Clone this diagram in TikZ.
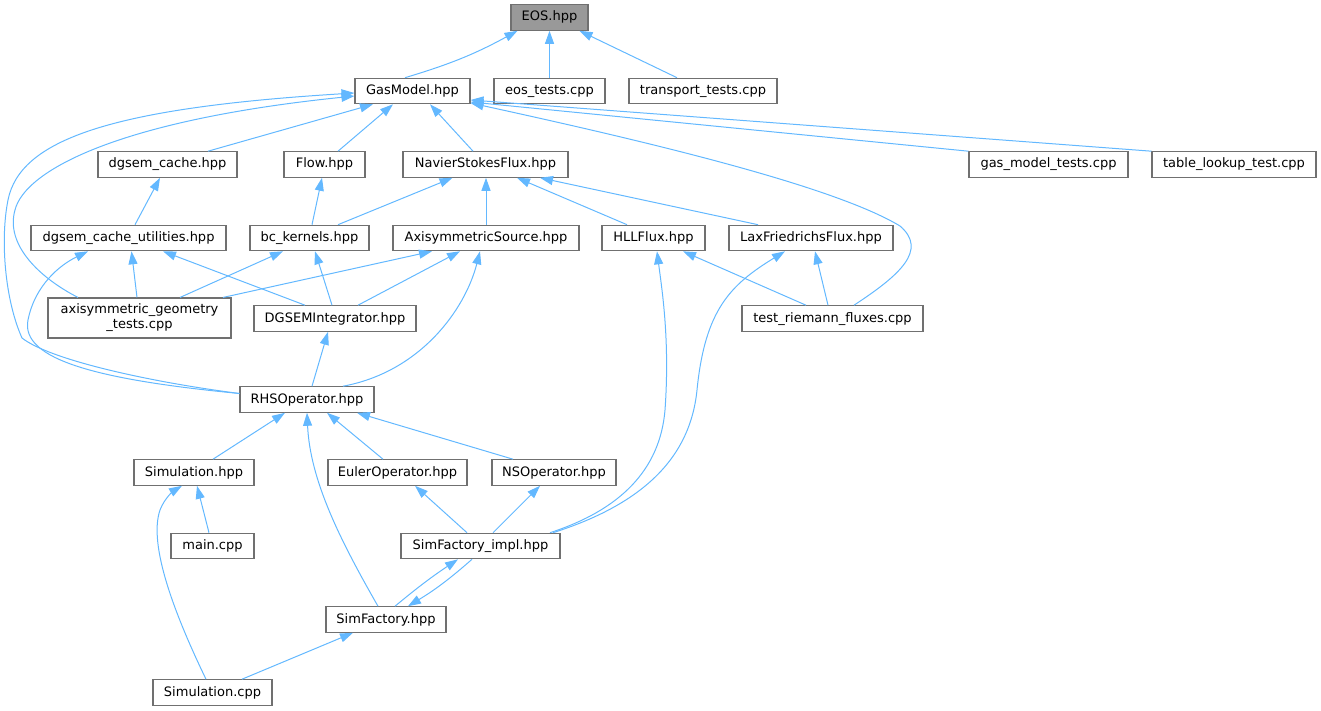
\documentclass[tikz,border=0pt]{standalone}
\usepackage{fontspec}
\setmainfont{DejaVu Sans}
\usetikzlibrary{arrows.meta}
\definecolor{edgeblue}{HTML}{63B8FF}
\definecolor{nodegray}{HTML}{707070}
\definecolor{rootfill}{HTML}{999999}
\begin{document}
\begin{tikzpicture}[x=1pt,y=-1pt,
  box/.style={draw=nodegray, line width=1.1pt, fill=white, inner sep=0pt,
    minimum height=25.5pt, font=\fontsize{13}{15}\selectfont,
    text height=10pt, text depth=3pt},
  box2/.style={draw=nodegray, line width=1.1pt, fill=white, inner sep=0pt,
    minimum height=40pt, font=\fontsize{13}{15}\selectfont, align=center},
  dep/.style={draw=edgeblue, line width=1pt, -{Triangle[length=13pt,width=9pt]}}]
\useasboundingbox (0,0) rectangle (1321,711);
% nodes
\node[box, fill=rootfill, minimum width=77pt] (EOS) at (549.5,17.5) {EOS.hpp};
\node[box, minimum width=115pt] (GM) at (412.5,91) {GasModel.hpp};
\node[box, minimum width=111pt] (ET) at (549.5,91) {eos\_tests.cpp};
\node[box, minimum width=148pt] (TT) at (703,91) {transport\_tests.cpp};
\node[box, minimum width=139pt] (DC) at (167.5,164.5) {dgsem\_cache.hpp};
\node[box, minimum width=81pt] (FL) at (324.5,164.5) {Flow.hpp};
\node[box, minimum width=165pt] (NSF) at (485.5,164.5) {NavierStokesFlux.hpp};
\node[box, minimum width=159pt] (GMT) at (1048.5,164.5) {gas\_model\_tests.cpp};
\node[box, minimum width=164pt] (TLT) at (1234,164.5) {table\_lookup\_test.cpp};
\node[box, minimum width=195pt] (DCU) at (128.5,238) {dgsem\_cache\_utilities.hpp};
\node[box, minimum width=119pt] (BCK) at (309.5,238) {bc\_kernels.hpp};
\node[box, minimum width=186pt] (AS) at (486,238) {AxisymmetricSource.hpp};
\node[box, minimum width=103pt] (HLL) at (653.5,238) {HLLFlux.hpp};
\node[box, minimum width=164pt] (LFF) at (811,238) {LaxFriedrichsFlux.hpp};
\node[box2, minimum width=183pt] (AG) at (139.5,318) {axisymmetric\_geometry\\\_tests.cpp};
\node[box, minimum width=162pt] (DGI) at (335,318.5) {DGSEMIntegrator.hpp};
\node[box, minimum width=181pt] (TR) at (832.5,318.5) {test\_riemann\_fluxes.cpp};
\node[box, minimum width=134pt] (RHS) at (307,399.5) {RHSOperator.hpp};
\node[box, minimum width=120pt] (SH) at (194,472.5) {Simulation.hpp};
\node[box, minimum width=139pt] (EO) at (397.5,472.5) {EulerOperator.hpp};
\node[box, minimum width=124pt] (NSO) at (554,472.5) {NSOperator.hpp};
\node[box, minimum width=83pt] (MC) at (212.5,546) {main.cpp};
\node[box, minimum width=159pt] (SFI) at (480.5,546) {SimFactory\_impl.hpp};
\node[box, minimum width=120pt] (SF) at (386,619.5) {SimFactory.hpp};
\node[box, minimum width=119pt] (SC) at (212.5,692.5) {Simulation.cpp};
% edges to EOS
\draw[dep] ([xshift=-7.5pt]GM.north) to[bend right=6] ([xshift=-32pt]EOS.south);
\draw[dep] (ET.north) -- (EOS.south);
\draw[dep] ([xshift=-26pt]TT.north) -- ([xshift=30pt]EOS.south);
% edges to GasModel
\draw[dep] ([xshift=40.5pt]DC.north) -- ([xshift=-39.5pt]GM.south);
\draw[dep] ([xshift=13.5pt]FL.north) -- ([xshift=-19.5pt]GM.south);
\draw[dep] ([xshift=-12.5pt]NSF.north) -- ([xshift=17.5pt]GM.south);
\draw[dep] (GMT.north west) -- ([yshift=-11pt]GM.east);
\draw[dep] (TLT.north west) -- ([yshift=-9pt]GM.east);
\draw[dep] ([xshift=21.5pt]TR.north) .. controls (900,275) and (928,250) .. (900,226)
  .. controls (832,185) and (640,140) .. ([yshift=-12pt]GM.east);
\draw[dep] ([xshift=-61.5pt]AG.north) .. controls (40,278) and (5,245) .. (15,210)
  .. controls (25,170) and (120,120) .. ([yshift=-5pt]GM.west);
\draw[dep] ([yshift=6pt]RHS.west) .. controls (150,382) and (50,360) .. (22,338)
  .. controls (5,300) and (0,240) .. (8,200)
  .. controls (20,140) and (110,108) .. ([yshift=-2pt]GM.west);
% RHSOperator -> dgsem_cache_utilities
\draw[dep] ([yshift=6pt]RHS.west) .. controls (100,380) and (20,360) .. (28,320)
  .. controls (35,285) and (60,265) .. ([xshift=-40.5pt]DCU.south);
% row 3 -> row 2
\draw[dep] ([xshift=6.5pt]DCU.north) -- ([xshift=-7.5pt]DC.south);
\draw[dep] ([xshift=2.5pt]BCK.north) -- ([xshift=-2.5pt]FL.south);
\draw[dep] ([xshift=28.5pt]BCK.north) -- ([xshift=-33pt]NSF.south);
\draw[dep] (AS.north) -- (AS.north |- NSF.south);
\draw[dep] ([xshift=-26.5pt]HLL.north) -- ([xshift=31.5pt]NSF.south);
\draw[dep] ([xshift=-53pt]LFF.north) -- ([xshift=54.5pt]NSF.south);
% row 4 -> row 3
\draw[dep] ([xshift=-2.5pt]AG.north) -- ([xshift=3pt]DCU.south);
\draw[dep] ([xshift=40.5pt]AG.north) -- ([xshift=-26.5pt]BCK.south);
\draw[dep] ([xshift=83.5pt]AG.north) -- ([xshift=-54pt]AS.south);
\draw[dep] ([xshift=-30pt]DGI.north) -- ([xshift=34.5pt]DCU.south);
\draw[dep] ([xshift=-3pt]DGI.north) -- ([xshift=5.5pt]BCK.south);
\draw[dep] ([xshift=23pt]DGI.north) -- ([xshift=-26pt]AS.south);
\draw[dep] ([xshift=-26.5pt]TR.north) -- ([xshift=29.5pt]HLL.south);
\draw[dep] ([xshift=-4.5pt]TR.north) -- ([xshift=4pt]LFF.south);
% RHSOperator
\draw[dep] ([xshift=36pt]RHS.north) .. controls (420,372) and (465,310) .. ([xshift=-6pt]AS.south);
\draw[dep] ([xshift=5pt]RHS.north) -- ([xshift=-7pt]DGI.south);
\draw[dep] ([xshift=19pt]SH.north) -- ([xshift=-22pt]RHS.south);
\draw[dep] ([xshift=-14.5pt]EO.north) -- ([xshift=20pt]RHS.south);
\draw[dep] ([xshift=-41pt]NSO.north) -- ([xshift=50pt]RHS.south);
\draw[dep] ([xshift=-8pt]SF.north) .. controls (340,540) and (310,480) .. (RHS.south);
% lower part
\draw[dep] ([xshift=-3.5pt]MC.north) -- ([xshift=3pt]SH.south);
\draw[dep] ([xshift=-6.5pt]SC.north) .. controls (175,615) and (148,545) .. (160,510)
  .. controls (165,497) and (175,490) .. ([xshift=-12pt]SH.south);
\draw[dep] ([xshift=-13.5pt]SFI.north) -- ([xshift=17.5pt]EO.south);
\draw[dep] ([xshift=12.5pt]SFI.north) -- ([xshift=-14pt]NSO.south);
\draw[dep] ([xshift=69.5pt]SFI.north) .. controls (620,510) and (660,470) .. (665,410)
  .. controls (670,340) and (662,290) .. ([xshift=3.5pt]HLL.south);
\draw[dep] ([xshift=72.5pt]SFI.north) .. controls (640,505) and (690,460) .. (697,390)
  .. controls (705,310) and (730,285) .. ([xshift=-26pt]LFF.south);
\draw[dep] ([xshift=9pt]SF.north) to[bend left=3] ([xshift=-22.5pt]SFI.south);
\draw[dep] ([xshift=-8.5pt]SFI.south) to[bend left=5] ([xshift=22pt]SF.north);
\draw[dep] ([xshift=29.5pt]SC.north) -- ([xshift=-33pt]SF.south);
\end{tikzpicture}
\end{document}
